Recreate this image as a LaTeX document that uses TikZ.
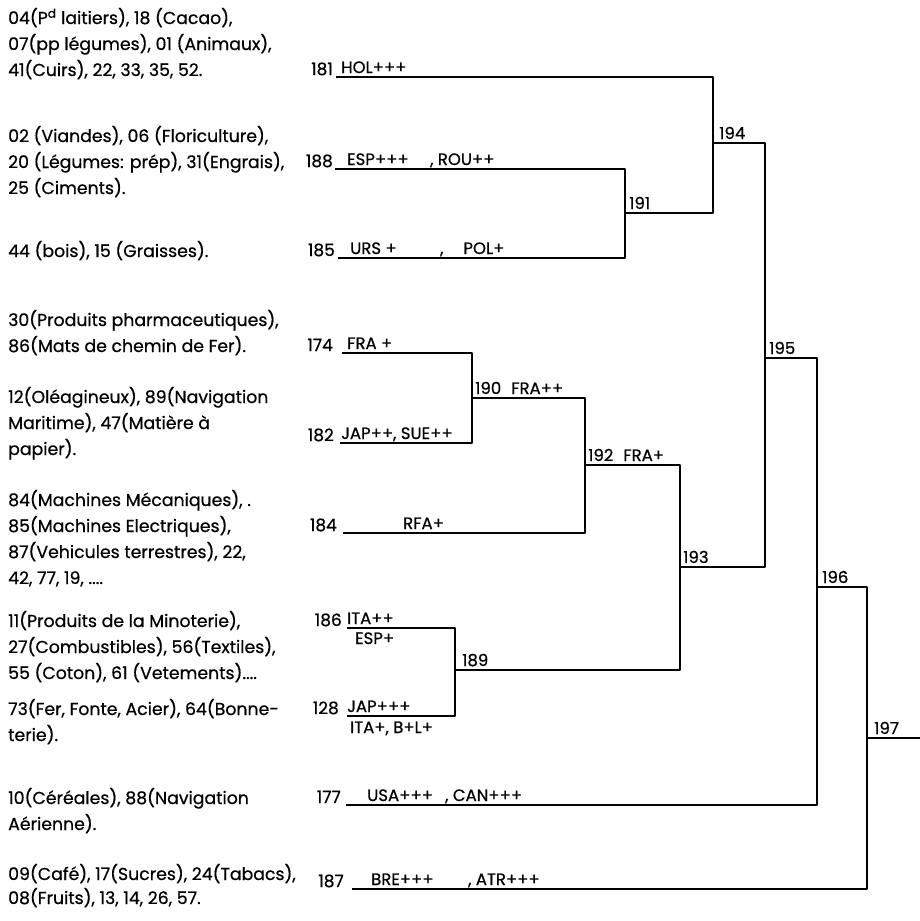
\documentclass[tikz,border=0pt]{standalone}
\usepackage{fontspec}
\newfontfamily\hand[FakeBold=0.6]{Poppins}
\begin{document}
\begin{tikzpicture}[x=1pt,y=-1pt,
  txt/.style={anchor=base west,inner sep=0pt,font=\hand\fontsize{17.3}{20}\selectfont},
  lab/.style={anchor=base west,inner sep=0pt,font=\hand\fontsize{16.5}{18}\selectfont},
  num/.style={anchor=base east,inner sep=0pt,font=\hand\fontsize{17}{18}\selectfont},
  tree/.style={line width=1.8pt,line join=round}]
\fill[white] (0,0) rectangle (920,921);
\useasboundingbox (0,0) rectangle (920,921);
% ---------- left column texts
\node[txt] (t1a) at (8,24) {04(P\textsuperscript{d} laitiers), 18 (Cacao),};
\node[txt] (t1b) at (8,50) {07(pp légumes), 01 (Animaux),};
\node[txt] (t1c) at (8,76) {41(Cuirs), 22, 33, 35, 52.};
\node[txt] (t2a) at (8,142) {02 (Viandes), 06 (Floriculture),};
\node[txt] (t2b) at (8,168) {20 (Légumes: prép), 31(Engrais),};
\node[txt] (t2c) at (8,194) {25 (Ciments).};
\node[txt] (t3a) at (8,257) {44 (bois), 15 (Graisses).};
\node[txt] (t4a) at (8,326) {30(Produits pharmaceutiques),};
\node[txt] (t4b) at (8,352) {86(Mats de chemin de Fer).};
\node[txt] (t5a) at (8,403) {12(Oléagineux), 89(Navigation};
\node[txt] (t5b) at (8,429) {Maritime), 47(Matière à};
\node[txt] (t5c) at (8,455) {papier).};
\node[txt] (t6a) at (8,506) {84(Machines Mécaniques), .};
\node[txt] (t6b) at (8,532) {85(Machines Electriques),};
\node[txt] (t6c) at (8,558) {87(Vehicules terrestres), 22,};
\node[txt] (t6d) at (8,584) {42, 77, 19, ....};
\node[txt] (t7a) at (8,627) {11(Produits de la Minoterie),};
\node[txt] (t7b) at (8,653) {27(Combustibles), 56(Textiles),};
\node[txt] (t7c) at (8,679) {55 (Coton), 61 (Vetements)....};
\node[txt] (t8a) at (8,715) {73(Fer, Fonte, Acier), 64(Bonne-};
\node[txt] (t8b) at (8,741) {terie).};
\node[txt] (t9a) at (8,804) {10(Céréales), 88(Navigation};
\node[txt] (t9b) at (8,830) {Aérienne).};
\node[txt] (t10a) at (8,880) {09(Café), 17(Sucres), 24(Tabacs),};
\node[txt] (t10b) at (8,904) {08(Fruits), 13, 14, 26, 57.};
% ---------- leaf numbers
\node[num] (n181) at (333,75) {181};
\node[num] (n188) at (333,167) {188};
\node[num] (n185) at (335,256) {185};
\node[num] (n174) at (333,351) {174};
\node[num] (n182) at (334,441) {182};
\node[num] (n184) at (337,531) {184};
\node[num] (n186) at (342,626) {186};
\node[num] (n128) at (339,714) {128};
\node[num] (n177) at (341,803) {177};
\node[num] (n187) at (344,887) {187};
% ---------- leaf start points
\coordinate (s181) at (336,77);
\coordinate (s188) at (335,169);
\coordinate (s185) at (338,258);
\coordinate (s174) at (342,353);
\coordinate (s182) at (340,443);
\coordinate (s184) at (343,533);
\coordinate (s186) at (347,628);
\coordinate (s128) at (347,716);
\coordinate (s177) at (346,805);
\coordinate (s187) at (352,889);
% ---------- merge points
\coordinate (m191) at (625,213);
\coordinate (m194) at (713,143);
\coordinate (m195) at (765,358);
\coordinate (m190) at (472,398);
\coordinate (m192) at (585,465);
\coordinate (m189) at (455,670);
\coordinate (m193) at (680,567);
\coordinate (m196) at (817,587);
\coordinate (m197) at (867,738);
\coordinate (e197) at (920,738);
% ---------- tree
\draw[tree] (s188) -| (m191) |- (s185);
\draw[tree] (s181) -| (m194) |- (m191);
\draw[tree] (m194) -| (m195) |- (m193);
\draw[tree] (s174) -| (m190) |- (s182);
\draw[tree] (m190) -| (m192) |- (s184);
\draw[tree] (m192) -| (m193) |- (m189);
\draw[tree] (s186) -| (m189) |- (s128);
\draw[tree] (m195) -| (m196) |- (s177);
\draw[tree] (m196) -| (m197) |- (s187);
\draw[tree] (m197) -- (e197);
% ---------- leaf labels
\node[lab] (l181) at (341,73) {HOL+++};
\node[lab] (l188a) at (347,165) {ESP+++};
\node[lab] (l188b) at (430,165) {, ROU++};
\node[lab] (l185a) at (350,254) {URS +};
\node[lab] (l185b) at (440,254) {,\hspace{20pt}POL+};
\node[lab] (l174) at (347,349) {FRA +};
\node[lab] (l182) at (341,439) {JAP++, SUE++};
\node[lab] (l184) at (403,529) {RFA+};
\node[lab] (l186a) at (347,624) {ITA++};
\node[lab] (l186b) at (355,644) {ESP+};
\node[lab] (l128a) at (347,712) {JAP+++};
\node[lab] (l128b) at (350,733) {ITA+, B+L+};
\node[lab] (l177a) at (367,801) {USA+++};
\node[lab] (l177b) at (445,801) {, CAN+++};
\node[lab] (l187a) at (371,885) {BRE+++};
\node[lab] (l187b) at (468,885) {, ATR+++};
% ---------- merge labels
\node[lab] (k190) at (475,394) {190\hspace{10pt}FRA++};
\node[lab] (k192) at (588,461) {192\hspace{10pt}FRA+};
\node[lab] (k189) at (462,666) {189};
\node[lab] (k193) at (683,563) {193};
\node[lab] (k191) at (629,209) {191};
\node[lab] (k194) at (719,139) {194};
\node[lab] (k195) at (769,354) {195};
\node[lab] (k196) at (822,583) {196};
\node[lab] (k197) at (874,734) {197};
\end{tikzpicture}
\end{document}
